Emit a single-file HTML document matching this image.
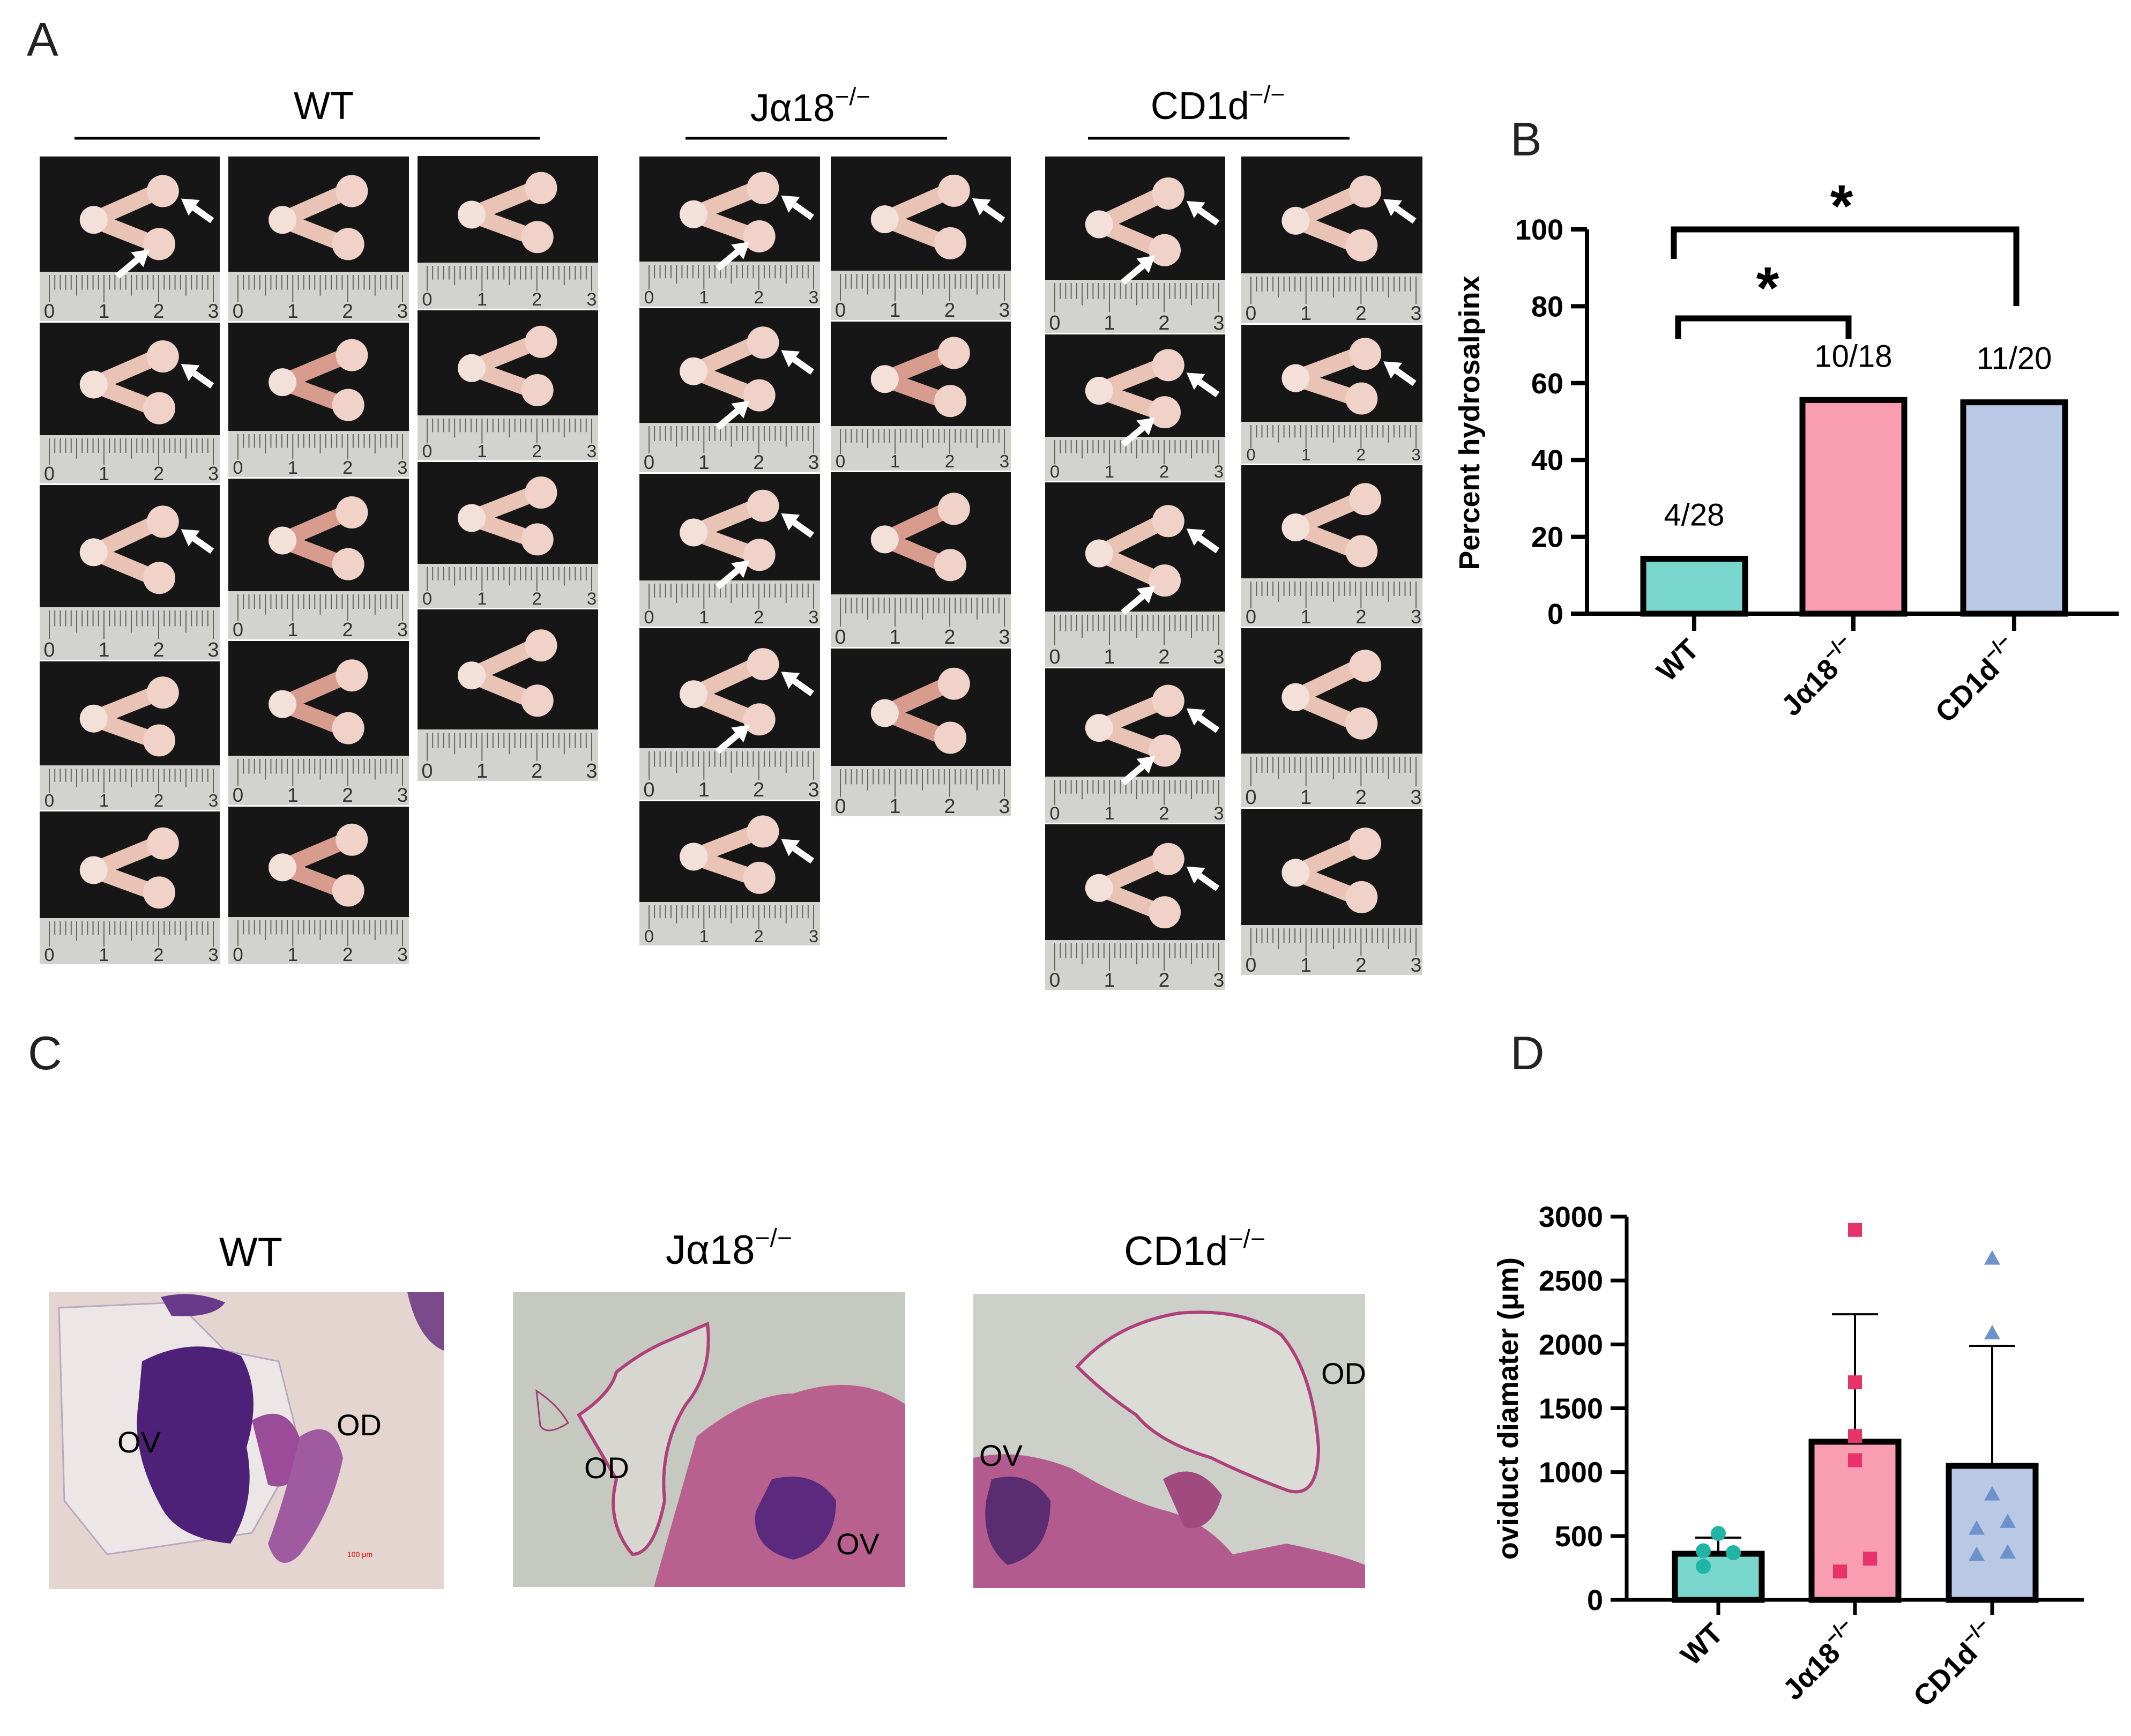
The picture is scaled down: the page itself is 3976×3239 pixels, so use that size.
<!DOCTYPE html>
<html><head><meta charset="utf-8"><style>
html,body{margin:0;padding:0;background:#fff;}
svg{display:block;font-family:"Liberation Sans",sans-serif;}
</style></head><body>
<svg id="fig" width="3976" height="3239" viewBox="0 0 3976 3239" xmlns="http://www.w3.org/2000/svg">
<rect width="3976" height="3239" fill="#fff"/>
<g>
<text x="50" y="104" font-size="88" fill="#222">A</text>
<text x="604" y="222" font-size="72" text-anchor="middle">WT</text>
<line x1="139" y1="258" x2="1007" y2="258" stroke="#000" stroke-width="5"/>
<text x="1512" y="226" font-size="72" text-anchor="middle">Jα18<tspan font-size="46" dy="-30">−/−</tspan></text>
<line x1="1279" y1="258" x2="1767" y2="258" stroke="#000" stroke-width="5"/>
<text x="2272" y="222" font-size="72" text-anchor="middle">CD1d<tspan font-size="46" dy="-30">−/−</tspan></text>
<line x1="2030" y1="258" x2="2518" y2="258" stroke="#000" stroke-width="5"/>
<g id="tiles"></g>
</g>
<g>
<text x="52" y="1995" font-size="88" fill="#222">C</text>
<text x="468" y="2362" font-size="76" text-anchor="middle">WT</text>
<text x="1360" y="2358" font-size="76" text-anchor="middle">Jα18<tspan font-size="48" dy="-32">−/−</tspan></text>
<text x="2229" y="2360" font-size="76" text-anchor="middle">CD1d<tspan font-size="48" dy="-32">−/−</tspan></text>
<g>
<rect x="91" y="2411" width="737" height="554" fill="#e4d5d0"/>
<path d="M110 2440 L330 2430 L420 2520 L520 2540 L560 2700 L470 2860 L200 2900 L120 2800 Z" fill="#ece6e6" stroke="#b9a8c0" stroke-width="3"/>
<path d="M265 2540 Q360 2490 450 2530 Q490 2600 460 2700 Q480 2800 430 2880 Q330 2870 300 2810 Q245 2710 258 2620 Z" fill="#4d2178"/>
<path d="M470 2650 Q540 2610 565 2700 Q555 2790 500 2770 Z" fill="#9a4c98"/>
<path d="M560 2680 Q620 2640 640 2720 Q620 2820 560 2900 Q520 2940 500 2880 Q530 2800 560 2680 Z" fill="#a05aa0"/>
<path d="M300 2420 Q360 2405 420 2430 Q400 2460 320 2455 Z" fill="#6a3a8a"/>
<path d="M760 2411 L828 2411 L828 2520 Q780 2500 760 2411 Z" fill="#7a4a8a"/>
<text x="219" y="2710" font-size="56">OV</text>
<text x="628" y="2678" font-size="56">OD</text>
<text x="648" y="2905" font-size="14" fill="#e00">100 μm</text>
</g>
<g>
<rect x="957" y="2411" width="732" height="550" fill="#c6c9c0"/>
<path d="M1080 2640 Q1140 2600 1150 2560 Q1200 2520 1250 2500 L1320 2470 Q1330 2560 1280 2620 Q1230 2700 1240 2800 Q1220 2900 1180 2900 Q1130 2840 1150 2760 Z" fill="#d8d6d0" stroke="#b0407a" stroke-width="6"/>
<path d="M1300 2680 Q1400 2600 1480 2600 Q1600 2560 1689 2620 L1689 2961 L1220 2961 Q1260 2820 1300 2680 Z" fill="#b8618f"/>
<path d="M1440 2760 Q1520 2740 1560 2800 Q1560 2890 1480 2910 Q1400 2890 1410 2820 Z" fill="#5b2a7e"/>
<path d="M1001 2595 Q1040 2620 1060 2655 Q1020 2680 1008 2660 Z" fill="none" stroke="#a04070" stroke-width="3"/>
<text x="1090" y="2758" font-size="56">OD</text>
<text x="1560" y="2900" font-size="56">OV</text>
</g>
<g>
<rect x="1816" y="2414" width="731" height="549" fill="#ccd0c8"/>
<path d="M2010 2550 Q2080 2470 2200 2450 Q2320 2440 2390 2490 Q2450 2560 2460 2700 Q2460 2800 2400 2780 Q2320 2750 2260 2720 Q2160 2690 2120 2640 Q2060 2600 2010 2550 Z" fill="#dcdcd6" stroke="#b0407a" stroke-width="6"/>
<path d="M1816 2720 Q1900 2700 2000 2740 Q2100 2800 2180 2820 Q2250 2840 2300 2900 L2400 2880 Q2500 2900 2547 2920 L2547 2963 L1816 2963 Z" fill="#b35b8e"/>
<path d="M1850 2760 Q1920 2740 1960 2800 Q1960 2900 1880 2920 Q1830 2880 1840 2800 Z" fill="#5a2d72"/>
<path d="M2170 2760 Q2230 2720 2280 2790 Q2260 2860 2210 2850 Z" fill="#a04a80"/>
<text x="1827" y="2735" font-size="56">OV</text>
<text x="2465" y="2582" font-size="56">OD</text>
</g>
</g>
<g id="panelB">
<text x="2818" y="290" font-size="88" fill="#222">B</text>
<text transform="translate(2760,789) rotate(-90)" font-size="54" font-weight="bold" text-anchor="middle">Percent hydrosalpinx</text>
</g>
<g id="panelD">
<text x="2818" y="1995" font-size="88" fill="#222">D</text>
<text transform="translate(2832,2628) rotate(-90)" font-size="54" font-weight="bold" text-anchor="middle">oviduct diamater (μm)</text>
</g>
</svg>
<script>
const bCategories = ["WT", "Jα18", "CD1d"];
const bValues = [14.3, 55.6, 55.0];
const bCounts = ["4/28", "10/18", "11/20"];
const bTicks = [0, 20, 40, 60, 80, 100];
const dCategories = ["WT", "Jα18", "CD1d"];
const dMeans = [361, 1238, 1049];
const dSD = [126, 998, 940];
const dPointsWT = [520, 384, 369, 262];
const dPointsJa = [2896, 1703, 1283, 1093, 323, 222];
const dPointsCD = [2670, 2086, 824, 556, 609, 351, 369];
const dTicks = [0, 500, 1000, 1500, 2000, 2500, 3000];

const NS = "http://www.w3.org/2000/svg";
function mk(tag, attrs, parent) {
  const e = document.createElementNS(NS, tag);
  for (const k in attrs) e.setAttribute(k, attrs[k]);
  parent.appendChild(e);
  return e;
}
const fills = ["#79d6cc", "#f89db2", "#b9c8e4"];

(function () {
  const g = document.getElementById("panelB");
  const x0 = 2961, yBase = 1145, yTop = 428;
  const yS = v => yBase - (v / 100) * (yBase - yTop);
  const centers = [3161, 3458, 3758];
  const bw = 190;
  bValues.forEach((v, i) => {
    const r = mk("rect", { x: centers[i] - bw / 2, y: yS(v), width: bw, height: yBase - yS(v), fill: fills[i], stroke: "#000", "stroke-width": 11 }, g);
    
    
    const t = mk("text", { x: centers[i], y: yS(v) - 62, "font-size": 58, "text-anchor": "middle" }, g);
    t.textContent = bCounts[i];
    
    
    const tk = mk("line", { x1: centers[i], y1: yBase, x2: centers[i], y2: yBase + 32, stroke: "#000", "stroke-width": 8 }, g);
    
    
    const lab = mk("text", { transform: `translate(${centers[i] + 12},${yBase + 70}) rotate(-45)`, "font-size": 54, "font-weight": "bold", "text-anchor": "end" }, g);
    lab.innerHTML = i === 0 ? "WT" : bCategories[i] + '<tspan font-size="36" dy="-24">−/−</tspan>';
    
    
  });
  const ax = mk("path", { d: `M${x0} ${yTop} V${yBase} H3953`, fill: "none", stroke: "#000", "stroke-width": 8 }, g);
  
  
  bTicks.forEach(v => {
    const l = mk("line", { x1: x0 - 30, y1: yS(v), x2: x0, y2: yS(v), stroke: "#000", "stroke-width": 8 }, g);
    
    
    const t = mk("text", { x: x0 - 44, y: yS(v) + 19, "font-size": 54, "font-weight": "bold", "text-anchor": "end" }, g);
    t.textContent = v;
    
    
  });
  const b1 = mk("path", { d: "M3131 632 V594 H3449 V632", fill: "none", stroke: "#000", "stroke-width": 11 }, g);
  
  
  const b2 = mk("path", { d: "M3123 483 V428 H3762 V571", fill: "none", stroke: "#000", "stroke-width": 11 }, g);
  
  
  [[3298, 575], [3436, 422]].forEach(p => {
    const s = mk("text", { x: p[0], y: p[1], "font-size": 110, "font-weight": "bold", "text-anchor": "middle" }, g);
    s.textContent = "*";
    
    
  });
})();

(function () {
  const g = document.getElementById("panelD");
  const x0 = 3035, yBase = 2985, yTop = 2270;
  const yS = v => yBase - (v / 3000) * (yBase - yTop);
  const centers = [3206, 3461, 3717];
  const bw = 162;
  dMeans.forEach((v, i) => {
    const r = mk("rect", { x: centers[i] - bw / 2, y: yS(v), width: bw, height: yBase - yS(v), fill: fills[i], stroke: "#000", "stroke-width": 11 }, g);
    
    
    const top = yS(v + dSD[i]);
    const e = mk("path", { d: `M${centers[i]} ${yS(v)} V${top} M${centers[i] - 43} ${top} H${centers[i] + 43}`, stroke: "#000", "stroke-width": 4, fill: "none" }, g);
    
    
    const tk = mk("line", { x1: centers[i], y1: yBase, x2: centers[i], y2: yBase + 28, stroke: "#000", "stroke-width": 7 }, g);
    
    
    const lab = mk("text", { transform: `translate(${centers[i] + 12},${yBase + 66}) rotate(-45)`, "font-size": 54, "font-weight": "bold", "text-anchor": "end" }, g);
    lab.innerHTML = i === 0 ? "WT" : dCategories[i] + '<tspan font-size="36" dy="-24">−/−</tspan>';
    
    
  });
  const ax = mk("path", { d: `M${x0} ${yTop} V${yBase} H3888`, fill: "none", stroke: "#000", "stroke-width": 7 }, g);
  
  
  dTicks.forEach(v => {
    const l = mk("line", { x1: x0 - 30, y1: yS(v), x2: x0, y2: yS(v), stroke: "#000", "stroke-width": 7 }, g);
    
    
    const t = mk("text", { x: x0 - 44, y: yS(v) + 19, "font-size": 54, "font-weight": "bold", "text-anchor": "end" }, g);
    t.textContent = v;
    
    
  });
  const offWT = [0, -28, 28, -28];
  dPointsWT.forEach((v, j) => {
    const c = mk("circle", { cx: centers[0] + offWT[j], cy: yS(v), r: 14, fill: "#1fb5a5" }, g);
    
    
  });
  const offJa = [0, 0, 0, 0, 28, -28];
  dPointsJa.forEach((v, j) => {
    const c = mk("rect", { x: centers[1] + offJa[j] - 13, y: yS(v) - 13, width: 26, height: 26, fill: "#e8336a" }, g);
    
    
  });
  const offCD = [0, 0, 0, -29, 29, -29, 29];
  dPointsCD.forEach((v, j) => {
    const cx = centers[2] + offCD[j], cy = yS(v);
    const c = mk("polygon", { points: `${cx},${cy - 16} ${cx - 15},${cy + 11} ${cx + 15},${cy + 11}`, fill: "#6e93cc" }, g);
    
    
  });
})();

(function () {
  const g = document.getElementById("tiles");
  const cols = [
    { x: 74, w: 336, ys: [290, 600, 903, 1232, 1512, 1800], arrows: [2, 1, 1, 0, 0] },
    { x: 426, w: 337, ys: [290, 600, 891, 1194, 1503, 1800], arrows: [0, 0, 0, 0, 0] },
    { x: 779, w: 337, ys: [289, 577, 860, 1135, 1458], arrows: [0, 0, 0, 0] },
    { x: 1193, w: 337, ys: [290, 573, 882, 1170, 1493, 1765], arrows: [2, 2, 2, 2, 1] },
    { x: 1550, w: 336, ys: [290, 598, 879, 1208, 1524], arrows: [1, 0, 0, 0] },
    { x: 1950, w: 336, ys: [290, 622, 898, 1245, 1536, 1848], arrows: [2, 2, 2, 2, 1] },
    { x: 2316, w: 338, ys: [290, 604, 866, 1170, 1507, 1820], arrows: [1, 1, 0, 0, 0] }
  ];
  function arrow(tg, tipx, tipy, fromx, fromy) {
    const ang = Math.atan2(tipy - fromy, tipx - fromx);
    const bx = tipx - 30 * Math.cos(ang), by = tipy - 30 * Math.sin(ang);
    const px = -Math.sin(ang) * 18, py = Math.cos(ang) * 18;
    mk("line", { x1: fromx, y1: fromy, x2: bx, y2: by, stroke: "#fff", "stroke-width": 12 }, tg);
    mk("polygon", { points: `${tipx},${tipy} ${bx + px},${by + py} ${bx - px},${by - py}`, fill: "#fff" }, tg);
  }
  cols.forEach((c, ci) => {
    for (let k = 0; k < c.ys.length - 1; k++) {
      const y = c.ys[k] + 2, h = c.ys[k + 1] - c.ys[k] - 3, x = c.x, w = c.w;
      const tg = mk("g", {}, g);
      
      
      const rh = Math.round(h * 0.3);
      mk("rect", { x: x, y: y, width: w, height: h - rh, fill: "#161616" }, tg);
      mk("rect", { x: x, y: y + h - rh, width: w, height: rh, fill: "#d2d3ce" }, tg);
      let d = "";
      for (let i = 0; i <= 30; i++) {
        const tx = x + 18 + i * (w - 30) / 30;
        const len = i % 10 === 0 ? rh * 0.55 : (i % 5 === 0 ? rh * 0.42 : rh * 0.3);
        d += `M${tx.toFixed(1)} ${y + h - rh + 6} v${len.toFixed(1)} `;
      }
      mk("path", { d: d, stroke: "#666", "stroke-width": 2, fill: "none" }, tg);
      ["0", "1", "2", "3"].forEach((n, i) => {
        const t = mk("text", { x: x + 18 + i * (w - 30) / 3, y: y + h - 6, "font-size": Math.min(38, rh * 0.4), "text-anchor": "middle", fill: "#333" }, tg);
        t.textContent = n;
      });
      const ph = h - rh;
      const lx = x + w * 0.3, ly = y + ph * 0.55;
      const ux = x + w * 0.66, uy = y + ph * 0.3, dx = x + w * 0.64, dy = y + ph * 0.76;
      const col = (ci === 1 || ci === 4) && k > 0 ? "#d89c8e" : "#e9c4b6";
      mk("path", { d: `M${ux} ${uy} L${lx} ${ly} L${dx} ${dy}`, stroke: col, "stroke-width": 30, fill: "none", "stroke-linecap": "round", "stroke-linejoin": "round" }, tg);
      mk("circle", { cx: ux + 8, cy: uy, r: 30, fill: "#f0d2c8" }, tg);
      mk("circle", { cx: dx + 8, cy: dy, r: 30, fill: "#f0d2c8" }, tg);
      mk("circle", { cx: lx, cy: ly, r: 26, fill: "#f3e0d8" }, tg);
      if (c.arrows[k] >= 1) arrow(tg, ux + 42, uy + 14, ux + 100, uy + 55);
      if (c.arrows[k] >= 2) arrow(tg, dx - 10, dy + 10, dx - 70, dy + 60);
    }
  });
})();
</script>
</body></html>
